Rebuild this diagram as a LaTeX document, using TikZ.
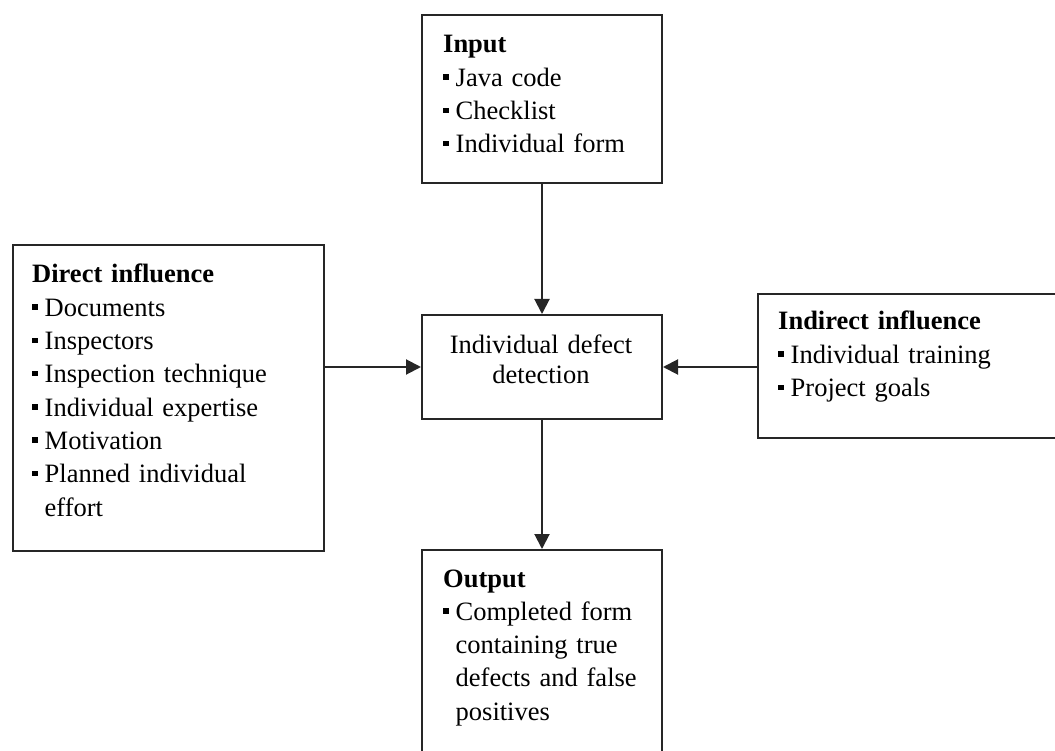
\documentclass[tikz,border=0pt]{standalone}
\usepackage{fontspec}
\setmainfont{Liberation Serif}
\usetikzlibrary{arrows.meta}
\newlength\bulw
\setlength\bulw{12.5pt}
\newcommand\bul{\makebox[\bulw][l]{\raisebox{6.5pt}{\rule{5.5pt}{5.5pt}}}}
\newcommand\hang{\hspace*{\bulw}}
\tikzset{
  boxst/.style={draw=black!85, line width=2pt, inner sep=0pt, anchor=north west},
  txt/.style={inner sep=0pt, anchor=base west, text width=400pt, align=left,
    font=\fontsize{26.5}{33.3}\selectfont},
  ctxt/.style={inner sep=0pt, anchor=base, text width=240pt, align=center,
    font=\fontsize{26.5}{30.5}\selectfont},
  arr/.style={draw=black!85, line width=2pt, -{Triangle[length=15pt,width=15pt]}}
}
\begin{document}
\begin{tikzpicture}[x=1pt,y=-1pt]
\useasboundingbox (0,0) rectangle (1055,751);
\clip (0,0) rectangle (1055,751);
\fill[white] (0,0) rectangle (1055,751);
% boxes
\node[boxst, minimum width=240pt, minimum height=168pt] (input) at (421,14) {};
\node[boxst, minimum width=240pt, minimum height=104pt] (center) at (421,314) {};
\node[boxst, minimum width=311pt, minimum height=306pt] (direct) at (12,244) {};
\node[boxst, minimum width=320pt, minimum height=144pt] (indirect) at (757,293) {};
\node[boxst, minimum width=240pt, minimum height=240pt] (output) at (421,549) {};
% texts
\node[txt] (inputtxt) at (443,53) {\textbf{Input}\\\bul Java code\\\bul Checklist\\\bul Individual form};
\node[txt] (directtxt) at (32,283) {\textbf{Direct influence}\\\bul Documents\\\bul Inspectors\\\bul Inspection technique\\\bul Individual expertise\\\bul Motivation\\\bul Planned individual\\\hang effort};
\node[txt] (indirecttxt) at (778,330) {\textbf{Indirect influence}\\\bul Individual training\\\bul Project goals};
\node[txt] (outputtxt) at (443,587) {\textbf{Output}\\\bul Completed form\\\hang containing true\\\hang defects and false\\\hang positives};
\node[ctxt] (centertxt) at (541,353) {Individual defect\\detection};
% connectors
\draw[arr] (input.south) -- (center.north);
\draw[arr] (center.south) -- (output.north);
\draw[arr] (direct.east |- center.west) -- (center.west);
\draw[arr] (indirect.west |- center.east) -- (center.east);
\end{tikzpicture}
\end{document}
